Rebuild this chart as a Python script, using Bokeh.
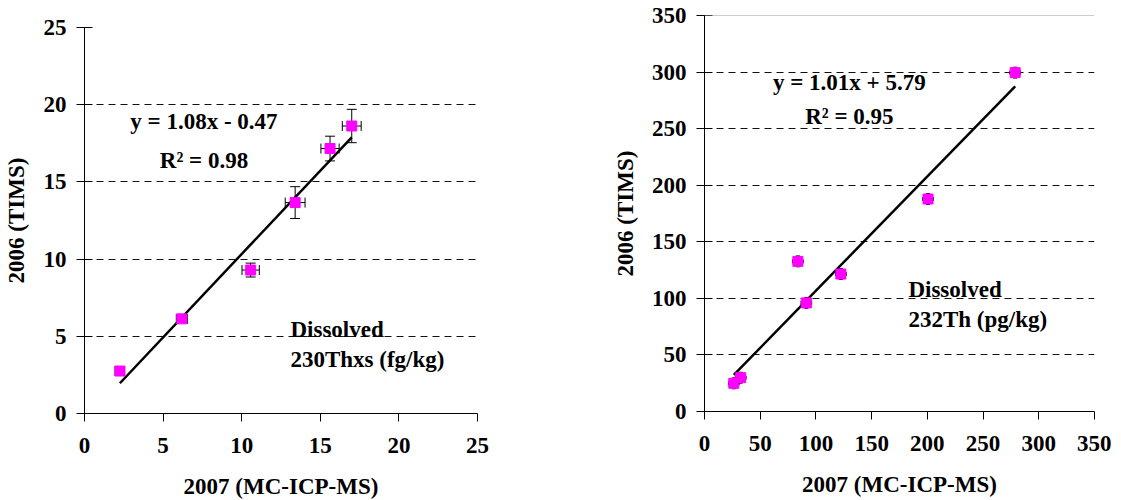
from bokeh.plotting import figure
from bokeh.models import (Range1d, Whisker, TeeHead, ColumnDataSource, Label,
                          FixedTicker, Span)
from bokeh.layouts import row
from bokeh.embed import file_html
from bokeh.resources import INLINE

# ---- data: left panel (230Thxs, fg/kg)
th_x = [2.25, 6.19, 10.57, 13.4, 15.62, 17.0]
th_y = [2.75, 6.13, 9.29, 13.66, 17.16, 18.62]
th_xerr = [0.3, 0.35, 0.55, 0.63, 0.58, 0.6]
th_yerr = [0.25, 0.2, 0.45, 1.03, 0.8, 1.08]
th_slope, th_icpt = 1.08, -0.47
th_ticks = [0, 5, 10, 15, 20, 25]

# ---- data: right panel (232Th, pg/kg)
tt_x = [26.3, 32.5, 83.8, 91.4, 122.4, 200.6, 278.8]
tt_y = [24.9, 29.9, 132.7, 96.0, 121.5, 187.8, 299.5]
tt_xerr = [4.8, 4.8, 4.8, 4.8, 4.8, 4.8, 4.8]
tt_yerr = [4.8, 4.8, 4.8, 4.8, 4.8, 4.8, 4.8]
tt_slope, tt_icpt = 1.01, 5.79
tt_ticks = [0, 50, 100, 150, 200, 250, 300, 350]

FONT = "Liberation Serif"
FS = "23px"


def panel(xs, ys, xe, ye, slope, icpt, ticks, eq, r2, line1, line2,
          eq_pos, r2_pos, l1_pos, l2_pos, fw, fh, bl, br, bt, bb,
          ylab_standoff, head, top_solid=False):
    hi = ticks[-1]
    p = figure(frame_width=fw, frame_height=fh,
               min_border_left=bl, min_border_right=br,
               min_border_top=bt, min_border_bottom=bb,
               x_range=Range1d(0, hi), y_range=Range1d(0, hi),
               output_backend="svg", toolbar_location=None,
               outline_line_color=None, background_fill_color="white",
               border_fill_color="white", frame_align=False)
    p.xgrid.visible = False
    p.ygrid.ticker = FixedTicker(ticks=ticks[1:] if not top_solid else ticks[1:-1])
    p.ygrid.grid_line_color = "#111111"
    p.ygrid.grid_line_dash = "7 5"
    p.ygrid.grid_line_width = 1
    if top_solid:
        p.add_layout(Span(location=hi, dimension="width",
                          line_color="#999999", line_width=1))

    for ax in (p.xaxis[0], p.yaxis[0]):
        ax.ticker = FixedTicker(ticks=ticks)
        ax.minor_tick_line_color = None
        ax.axis_line_color = "black"
        ax.major_tick_line_color = "black"
        ax.major_label_text_font = FONT
        ax.major_label_text_font_size = FS
        ax.major_label_text_font_style = "bold"
        ax.major_label_text_color = "black"
        ax.axis_label_text_font = FONT
        ax.axis_label_text_font_size = FS
        ax.axis_label_text_font_style = "bold"
        ax.axis_label_text_color = "black"
        ax.major_tick_out = 8
    p.xaxis.major_tick_in = 0
    p.yaxis.major_tick_in = 8
    p.xaxis.major_label_standoff = 16
    p.yaxis.major_label_standoff = 10
    p.xaxis.axis_label_standoff = 18
    p.yaxis.axis_label_standoff = ylab_standoff
    p.xaxis.axis_label = "2007 (MC-ICP-MS)"
    p.yaxis.axis_label = "2006 (TIMS)"

    # trend line (from reported regression equation)
    x0, x1 = min(xs), max(xs)
    p.line([x0, x1], [slope * x0 + icpt, slope * x1 + icpt],
           line_color="black", line_width=2.5)

    src = ColumnDataSource(dict(
        x=xs, y=ys,
        yl=[a - b for a, b in zip(ys, ye)], yu=[a + b for a, b in zip(ys, ye)],
        xl=[a - b for a, b in zip(xs, xe)], xu=[a + b for a, b in zip(xs, xe)]))

    p.add_layout(Whisker(source=src, base="x", lower="yl", upper="yu",
                         dimension="height", line_color="black", line_width=1,
                         level="underlay",
                         lower_head=TeeHead(size=head, line_color="black"),
                         upper_head=TeeHead(size=head, line_color="black")))
    p.add_layout(Whisker(source=src, base="y", lower="xl", upper="xu",
                         dimension="width", line_color="black", line_width=1,
                         level="underlay",
                         lower_head=TeeHead(size=head, line_color="black"),
                         upper_head=TeeHead(size=head, line_color="black")))

    p.scatter("x", "y", source=src, marker="square", size=10,
              fill_color="#FF00FF", line_color="#FF00FF")

    common = dict(text_font=FONT, text_font_size=FS, text_font_style="bold",
                  text_color="black", text_baseline="middle")
    p.add_layout(Label(x=eq_pos[0], y=eq_pos[1], text=eq, text_align="center", **common))
    p.add_layout(Label(x=r2_pos[0], y=r2_pos[1], text=r2, text_align="center", **common))
    p.add_layout(Label(x=l1_pos[0], y=l1_pos[1], text=line1, text_align="left", **common))
    p.add_layout(Label(x=l2_pos[0], y=l2_pos[1], text=line2, text_align="left", **common))
    return p


left = panel(th_x, th_y, th_xerr, th_yerr, th_slope, th_icpt, th_ticks,
             "y = 1.08x - 0.47", "R\u00b2 = 0.98", "Dissolved", "230Thxs (fg/kg)",
             (7.6, 18.9), (7.6, 16.4), (13.1, 5.44), (13.1, 3.5),
             fw=393, fh=386, bl=81, br=132, bt=27, bb=85, ylab_standoff=12, head=10)

right = panel(tt_x, tt_y, tt_xerr, tt_yerr, tt_slope, tt_icpt, tt_ticks,
              "y = 1.01x + 5.79", "R\u00b2 = 0.95", "Dissolved", "232Th (pg/kg)",
              (130, 291), (130, 261), (183, 108), (183, 81.4),
              fw=390, fh=396, bl=92, br=17, bt=15, bb=87, ylab_standoff=11, head=4,
              top_solid=True)

layout = row(left, right)
open("out.html", "w").write(file_html(layout, INLINE))
